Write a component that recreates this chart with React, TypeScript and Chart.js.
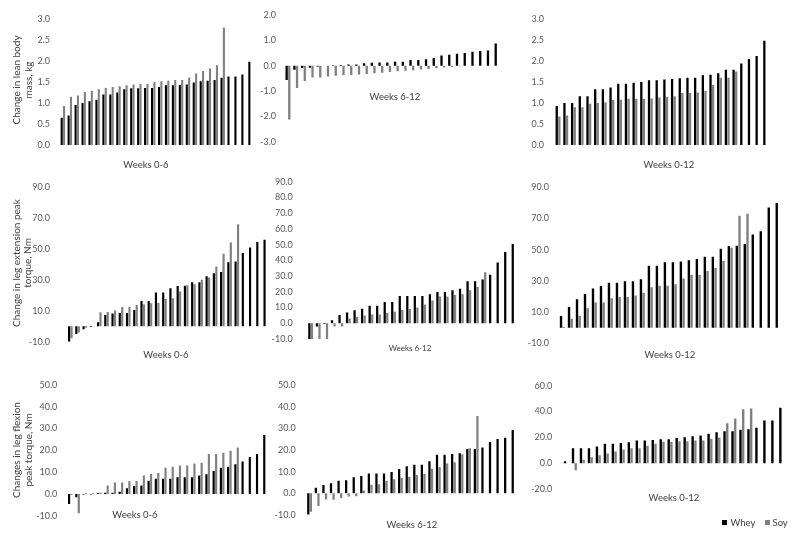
import React, { useEffect, useRef } from "react";
import { Chart, registerables } from "chart.js";
Chart.register(...registerables);

const PAGE_W = 798;
const PAGE_H = 541;
const AXIS_W = 40;
const WHEY_COLOR = "#000000";
const SOY_COLOR = "#808080";
const TICK_COLOR = "#595959";
const TITLE_COLOR = "#404040";
const FONT = "Lato, 'Open Sans', sans-serif";

// ---- Lean body mass (kg) ----
const lbmWhey0to6 = [0.65, 0.70, 0.95, 1.00, 1.04, 1.08, 1.20, 1.20, 1.25, 1.33, 1.35, 1.35, 1.36, 1.36, 1.38, 1.42, 1.42, 1.43, 1.44, 1.49, 1.52, 1.53, 1.55, 1.60, 1.63, 1.63, 1.68, 1.98];
const lbmSoy0to6 = [0.93, 1.15, 1.18, 1.26, 1.29, 1.33, 1.36, 1.38, 1.40, 1.42, 1.44, 1.45, 1.45, 1.50, 1.52, 1.53, 1.55, 1.55, 1.61, 1.70, 1.76, 1.82, 1.90, 2.80];
const lbmWhey6to12 = [-0.57, -0.16, -0.09, -0.08, -0.03, 0.0, 0.02, 0.03, 0.05, 0.05, 0.10, 0.12, 0.13, 0.13, 0.16, 0.16, 0.22, 0.22, 0.25, 0.30, 0.40, 0.43, 0.47, 0.50, 0.55, 0.58, 0.60, 0.88];
const lbmSoy6to12 = [-2.12, -0.88, -0.60, -0.47, -0.47, -0.43, -0.40, -0.38, -0.37, -0.35, -0.33, -0.30, -0.28, -0.25, -0.22, -0.20, -0.18, -0.15, -0.13, -0.10, -0.07, -0.05, -0.02, 0.0];
const lbmWhey0to12 = [0.93, 1.00, 1.00, 1.16, 1.16, 1.33, 1.33, 1.37, 1.46, 1.46, 1.48, 1.50, 1.54, 1.54, 1.56, 1.57, 1.59, 1.60, 1.60, 1.66, 1.67, 1.71, 1.79, 1.79, 1.94, 2.05, 2.12, 2.48];
const lbmSoy0to12 = [0.68, 0.70, 0.90, 0.90, 0.98, 1.00, 1.02, 1.07, 1.08, 1.10, 1.10, 1.10, 1.11, 1.13, 1.14, 1.16, 1.24, 1.24, 1.25, 1.29, 1.43, 1.60, 1.60, 1.75];

// ---- Leg extension peak torque (Nm) ----
const extWhey0to6 = [-10, -5, -2, -0.5, 2.6, 7.3, 8.2, 8.6, 8.6, 10.6, 16.4, 16.4, 21.8, 21.8, 24.6, 26, 26.3, 28.5, 28.5, 32.4, 34.3, 35.2, 41.5, 41.9, 47.5, 51, 54.5, 56];
const extSoy0to6 = [-7.8, -4, -1, 0, 9.1, 9.3, 10.2, 12.5, 12.5, 13.8, 14.3, 14.9, 15.1, 17.7, 18.1, 22.5, 26.6, 27.2, 30.2, 31.6, 38.7, 47, 54.2, 66];
const extWhey6to12 = [-10.4, -2, -0.5, 1.9, 5.3, 6.8, 8.3, 9.3, 11.2, 11.2, 13.6, 13.6, 17.4, 17.4, 17.4, 17.4, 18.4, 19.9, 19.9, 21, 22, 26.7, 26.7, 27.8, 30.9, 38.6, 45.3, 50.4];
const extSoy6to12 = [-10, -10, -10, -2, -2, 3, 4, 5, 5.5, 5.5, 6.5, 7.4, 8.5, 9, 10, 12, 14.5, 17, 17, 18, 18.5, 21, 23, 32.4];
const extWhey0to12 = [7.5, 13.2, 18.2, 21.6, 25.2, 26.7, 28.8, 28.8, 29.7, 29.7, 31, 39.7, 39.7, 41.9, 41.9, 42.5, 43.2, 44, 45.5, 45.5, 50.6, 52.3, 52.6, 53.6, 59.8, 61.8, 77.1, 79.9];
const extSoy0to12 = [0.5, 5.8, 7.7, 12.4, 16.2, 16.2, 18.8, 19.7, 19.7, 20.7, 22.4, 25.9, 26.9, 26.9, 27.8, 31.6, 34, 34, 36.3, 38.2, 42.7, 51.3, 71.8, 73];

// ---- Leg flexion peak torque (Nm) ----
const flexWhey0to6 = [-4.6, -1.5, -0.3, -0.3, 0.3, 0.5, 0.5, 1, 2.6, 3.6, 3.9, 6.1, 7, 7, 7, 7.6, 7.6, 7.6, 8.5, 9, 10.5, 12, 12.5, 13.6, 14.9, 16.9, 18.3, 27];
const flexSoy0to6 = [-0.5, -8.9, 0.3, 0.3, 0.5, 3.9, 5.2, 5.2, 5.9, 5.9, 8.5, 9.1, 9.6, 12, 12.5, 13.1, 13.1, 14, 14.3, 18.3, 18.3, 18.9, 19.8, 21.3];
const flexWhey6to12 = [-9.8, 2.6, 3.8, 4.6, 5.8, 6, 7.4, 8, 9.1, 9.1, 9.1, 9.8, 11.2, 12.5, 13.2, 13.2, 14.8, 17.8, 17.8, 18.2, 18.5, 20.5, 20.5, 21.1, 23.7, 25.1, 25.7, 29.2];
const flexSoy6to12 = [-8.5, -5.8, -2.8, -3, -2.2, -1.5, -1.3, 1.3, 4, 4.2, 5.8, 6.5, 7.1, 7.7, 8.5, 8.9, 11.4, 12.2, 13.8, 14.3, 18, 20.8, 35.7];
const flexWhey0to12 = [1.5, 11.6, 11.6, 11.6, 12.9, 15, 15, 15.7, 16.3, 17.5, 17.5, 18, 18.6, 18.6, 19.4, 20.1, 20.9, 21.4, 22.7, 24, 24.8, 24.8, 25.8, 26.3, 27.4, 33, 33, 43];
const flexSoy0to12 = [null, -5.4, 2.6, 4.6, 6.2, 7.5, 9, 10.6, 11.6, 11.6, 13.4, 15, 16.5, 16.5, 17, 17, 17.5, 17.5, 19, 19.9, 31, 34.6, 41.8, 42.3];

// ---- Text ----
const seriesNames = ["Whey", "Soy"];
const yTitleLbm = ["Change in lean body", "mass, kg"];
const yTitleExt = ["Change in leg extension peak", "torque, Nm"];
const yTitleFlex = ["Changes in leg flexion", "peak torque, Nm"];

type Panel = {
  whey: (number | null)[];
  soy: (number | null)[];
  min: number; max: number; step: number;
  left: number; right: number; top: number; bottom: number; tickRight: number;
  xTitle: string; xtX: number; xtY: number; xtSize: number;
  yTitle?: string[]; ytX?: number; ytY?: number;
  legend?: boolean;
};

const panels: Panel[] = [
  { whey: lbmWhey0to6, soy: lbmSoy0to6, min: 0, max: 3, step: 0.5, left: 59.4, right: 254, top: 19, bottom: 145, tickRight: 50,
    xTitle: "Weeks 0-6", xtX: 146, xtY: 165, xtSize: 9.5, yTitle: yTitleLbm, ytX: 22.5, ytY: 80 },
  { whey: lbmWhey6to12, soy: lbmSoy6to12, min: -3, max: 2, step: 1, left: 284.1, right: 500.9, top: 15, bottom: 141.7, tickRight: 276,
    xTitle: "Weeks 6-12", xtX: 395, xtY: 97, xtSize: 9.5 },
  { whey: lbmWhey0to12, soy: lbmSoy0to12, min: 0, max: 3, step: 0.5, left: 554.2, right: 769.5, top: 19, bottom: 145, tickRight: 544,
    xTitle: "Weeks 0-12", xtX: 669, xtY: 165, xtSize: 9.5 },
  { whey: extWhey0to6, soy: extSoy0to6, min: -10, max: 90, step: 20, left: 66.7, right: 269.4, top: 187.3, bottom: 341.7, tickRight: 50,
    xTitle: "Weeks 0-6", xtX: 166, xtY: 355, xtSize: 9.5, yTitle: yTitleExt, ytX: 22.3, ytY: 263 },
  { whey: extWhey6to12, soy: extSoy6to12, min: -10, max: 90, step: 10, left: 306.9, right: 517.8, top: 181.7, bottom: 339, tickRight: 292.7,
    xTitle: "Weeks 6-12", xtX: 410, xtY: 348.3, xtSize: 8 },
  { whey: extWhey0to12, soy: extSoy0to12, min: -10, max: 90, step: 20, left: 558.4, right: 782.1, top: 187.3, bottom: 343.3, tickRight: 549,
    xTitle: "Weeks 0-12", xtX: 670, xtY: 355, xtSize: 9.5 },
  { whey: flexWhey0to6, soy: flexSoy0to6, min: -10, max: 50, step: 10, left: 66.7, right: 269.1, top: 385, bottom: 515.7, tickRight: 57.3,
    xTitle: "Weeks 0-6", xtX: 135, xtY: 515, xtSize: 9.5, yTitle: yTitleFlex, ytX: 23, ytY: 450 },
  { whey: flexWhey6to12, soy: flexSoy6to12, min: -10, max: 50, step: 10, left: 305.8, right: 517.8, top: 385, bottom: 515, tickRight: 295.7,
    xTitle: "Weeks 6-12", xtX: 412, xtY: 525, xtSize: 9.5 },
  { whey: flexWhey0to12, soy: flexSoy0to12, min: -20, max: 60, step: 20, left: 562.4, right: 785.7, top: 385.7, bottom: 489, tickRight: 552.3,
    xTitle: "Weeks 0-12", xtX: 674, xtY: 498.3, xtSize: 9.5, legend: true },
];

function textPlugin(p: Panel) {
  return {
    id: "panelText",
    afterDraw(chart: any) {
      const ctx = chart.ctx as CanvasRenderingContext2D;
      ctx.save();
      ctx.fillStyle = TITLE_COLOR;
      ctx.textAlign = "center";
      ctx.textBaseline = "middle";
      ctx.font = `${p.xtSize}px ${FONT}`;
      ctx.fillText(p.xTitle, p.xtX, p.xtY);
      if (p.yTitle) {
        ctx.font = `10px ${FONT}`;
        ctx.translate(p.ytX as number, p.ytY as number);
        ctx.rotate(-Math.PI / 2);
        const lh = 11.8;
        const n = p.yTitle.length;
        p.yTitle.forEach((line, i) => {
          ctx.fillText(line, 0, (i - (n - 1) / 2) * lh);
        });
        ctx.setTransform(1, 0, 0, 1, 0, 0);
      }
      if (p.legend) {
        ctx.font = `9.5px ${FONT}`;
        ctx.textAlign = "left";
        ctx.fillStyle = WHEY_COLOR;
        ctx.fillRect(722, 520, 5, 5);
        ctx.fillStyle = TITLE_COLOR;
        ctx.fillText(seriesNames[0], 730.5, 523);
        ctx.fillStyle = SOY_COLOR;
        ctx.fillRect(765, 520, 5, 5);
        ctx.fillStyle = TITLE_COLOR;
        ctx.fillText(seriesNames[1], 772.5, 523);
      }
      ctx.restore();
    },
  };
}

function makeConfig(p: Panel): any {
  const labels = p.whey.map((_, i) => String(i + 1));
  return {
    type: "bar",
    data: {
      labels,
      datasets: [
        { label: seriesNames[0], data: p.whey, backgroundColor: WHEY_COLOR, categoryPercentage: 0.68, barPercentage: 0.88 },
        { label: seriesNames[1], data: p.soy, backgroundColor: SOY_COLOR, categoryPercentage: 0.68, barPercentage: 0.88 },
      ],
    },
    options: {
      responsive: false,
      animation: false,
      devicePixelRatio: 1,
      layout: {
        padding: { left: p.left - AXIS_W, right: PAGE_W - p.right, top: p.top, bottom: PAGE_H - p.bottom },
      },
      plugins: { legend: { display: false }, tooltip: { enabled: false } },
      scales: {
        x: { display: false },
        y: {
          min: p.min,
          max: p.max,
          ticks: {
            stepSize: p.step,
            padding: p.left - p.tickRight,
            color: TICK_COLOR,
            font: { family: FONT, size: 9 },
            callback: (v: any) => Number(v).toFixed(1),
          },
          grid: { display: false, drawTicks: false },
          border: { display: false },
          afterFit: (s: any) => { s.width = AXIS_W; },
        },
      },
    },
    plugins: [textPlugin(p)],
  };
}

function PanelChart({ p }: { p: Panel }) {
  const ref = useRef<HTMLCanvasElement | null>(null);
  useEffect(() => {
    if (!ref.current) return;
    const chart = new Chart(ref.current, makeConfig(p));
    return () => chart.destroy();
  }, [p]);
  return (
    <canvas
      ref={ref}
      width={PAGE_W}
      height={PAGE_H}
      style={{ position: "absolute", left: 0, top: 0, width: PAGE_W, height: PAGE_H, pointerEvents: "none" }}
    />
  );
}

export default function App() {
  return (
    <div style={{ position: "fixed", left: 0, top: 0, width: PAGE_W, height: PAGE_H, background: "#ffffff", overflow: "hidden" }}>
      {panels.map((p, i) => (
        <PanelChart key={i} p={p} />
      ))}
    </div>
  );
}
